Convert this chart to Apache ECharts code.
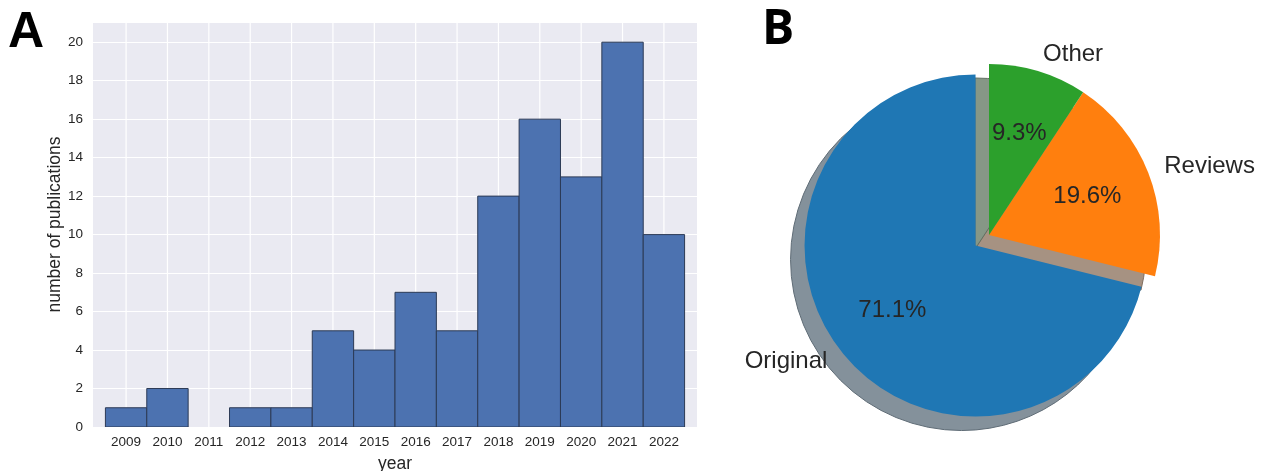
<!DOCTYPE html>
<html><head><meta charset="utf-8">
<script src="https://cdn.jsdelivr.net/npm/echarts@6/dist/echarts.min.js"></script>
<style>html,body{margin:0;padding:0;background:#fff}#c{width:1271px;height:471px}</style>
</head><body><div id="c"></div>
<script>
const years = [2009,2010,2011,2012,2013,2014,2015,2016,2017,2018,2019,2020,2021,2022];
const counts = [1,2,0,1,1,5,4,7,5,12,16,13,20,10];
const pieNames = ['Original','Reviews','Other'];
const pieValues = [69,19,9];
const pieColors = ['#1f77b4','#ff7f0e','#2ca02c'];
const shadowColors = ['#84919b','#a69282','#869786'];
const shadowEdges = ['#5f6c76','#7f6d5f','#627062'];

const FONT = "'Liberation Sans', Arial, sans-serif";
const TXT = '#262626';
const R = 171;
const C = [989, 235];
const X_MIN = 2008.2, X_MAX = 2022.8, Y_MAX = 21.05;

function pieData(colors, extra) {
  return pieNames.map((n, i) => Object.assign({
    name: n, value: pieValues[i], selected: i === 0,
    itemStyle: { color: colors[i] }
  }, extra ? extra(i) : {}));
}

const chart = echarts.init(document.getElementById('c'), null, {renderer: 'canvas'});
chart.setOption({
  animation: false,
  title: [
    {text: 'A', left: 8, top: 8, padding: 0, textStyle: {fontFamily: FONT, fontWeight: 'bold', fontSize: 50, color: '#000'}},
    {text: 'B', left: 762, top: 6, padding: 0, textStyle: {fontFamily: "'Open Sans', sans-serif", fontWeight: 'bold', fontSize: 48, color: '#000'}}
  ],
  grid: {left: 93, top: 22, width: 604, height: 405, show: true, backgroundColor: '#EAEAF2', borderWidth: 0,
    containLabel: false, outerBoundsMode: 'none'},
  xAxis: {
    type: 'value', min: X_MIN, max: X_MAX, interval: 0.2,
    axisLine: {show: false}, axisTick: {show: false},
    splitLine: {show: false},
    axisLabel: {showMinLabel: false, showMaxLabel: false, color: TXT, fontSize: 13.5, fontFamily: FONT, margin: 8,
      hideOverlap: false,
      formatter: v => (Math.abs(v - Math.round(v)) < 1e-6 ? String(Math.round(v)) : '')},
    name: 'year', nameLocation: 'middle', nameGap: 28,
    nameTextStyle: {color: TXT, fontSize: 17.5, fontFamily: FONT}
  },
  yAxis: {
    type: 'value', min: 0, max: Y_MAX, interval: 2,
    axisLine: {show: false}, axisTick: {show: false},
    splitLine: {show: true, lineStyle: {color: '#ffffff', width: 1.2}},
    axisLabel: {showMaxLabel: false, color: TXT, fontSize: 13.5, fontFamily: FONT, margin: 10},
    name: 'number of publications', nameLocation: 'middle', nameGap: 26,
    nameTextStyle: {color: TXT, fontSize: 17.5, fontFamily: FONT}
  },
  series: [
    {
      // vertical grid lines at each year
      type: 'custom', silent: true, z: 1,
      data: years.map(y => [y, 0]),
      encode: {x: 0, y: 1},
      renderItem: function (params, api) {
        const a = api.coord([api.value(0), 0]);
        const b = api.coord([api.value(0), Y_MAX]);
        return {type: 'line', shape: {x1: a[0], y1: a[1], x2: b[0], y2: b[1]},
          style: {stroke: '#ffffff', lineWidth: 1.2}};
      }
    },
    {
      type: 'custom', silent: true, clip: true, z: 2,
      data: years.map((y, i) => [y, counts[i]]),
      encode: {x: 0, y: 1},
      renderItem: function (params, api) {
        const v = api.value(1);
        if (!v) return null;
        const p0 = api.coord([api.value(0) - 0.5, v]);
        const p1 = api.coord([api.value(0) + 0.5, 0]);
        return {type: 'rect', shape: {x: p0[0], y: p0[1], width: p1[0] - p0[0], height: p1[1] - p0[1]},
          style: {fill: '#4C72B0', stroke: '#2c3a55', lineWidth: 1}};
      }
    },
    {
      // shadow
      type: 'pie', silent: true, z: 1, center: [C[0] - 14, C[1] + 14], radius: R,
      startAngle: 90, clockwise: false, selectedMode: 'multiple', selectedOffset: R * 0.1,
      avoidLabelOverlap: false, label: {show: false}, labelLine: {show: false},
      data: pieData(shadowColors, i => ({itemStyle: {color: shadowColors[i], borderColor: shadowEdges[i], borderWidth: 1}}))
    },
    {
      // main wedges + name labels
      type: 'pie', silent: true, z: 2, center: C, radius: R,
      startAngle: 90, clockwise: false, selectedMode: 'multiple', selectedOffset: R * 0.1,
      avoidLabelOverlap: false,
      itemStyle: {borderWidth: 0},
      label: {show: true, position: 'outside', distanceToLabelLine: 0, color: TXT, fontSize: 24, fontFamily: FONT},
      labelLine: {show: false, length: R * 0.1, length2: 0},
      data: pieData(pieColors)
    },
    {
      // percentage labels at 0.6 r
      type: 'pie', silent: true, z: 3, center: C, radius: [0, R * 1.2],
      startAngle: 90, clockwise: false, selectedMode: 'multiple', selectedOffset: R * 0.1,
      avoidLabelOverlap: false, percentPrecision: 1,
      label: {show: true, position: 'inside', formatter: '{d}%', color: TXT, fontSize: 24, fontFamily: FONT},
      labelLine: {show: false},
      data: pieData(['rgba(0,0,0,0)','rgba(0,0,0,0)','rgba(0,0,0,0)'])
    }
  ]
});
</script></body></html>
